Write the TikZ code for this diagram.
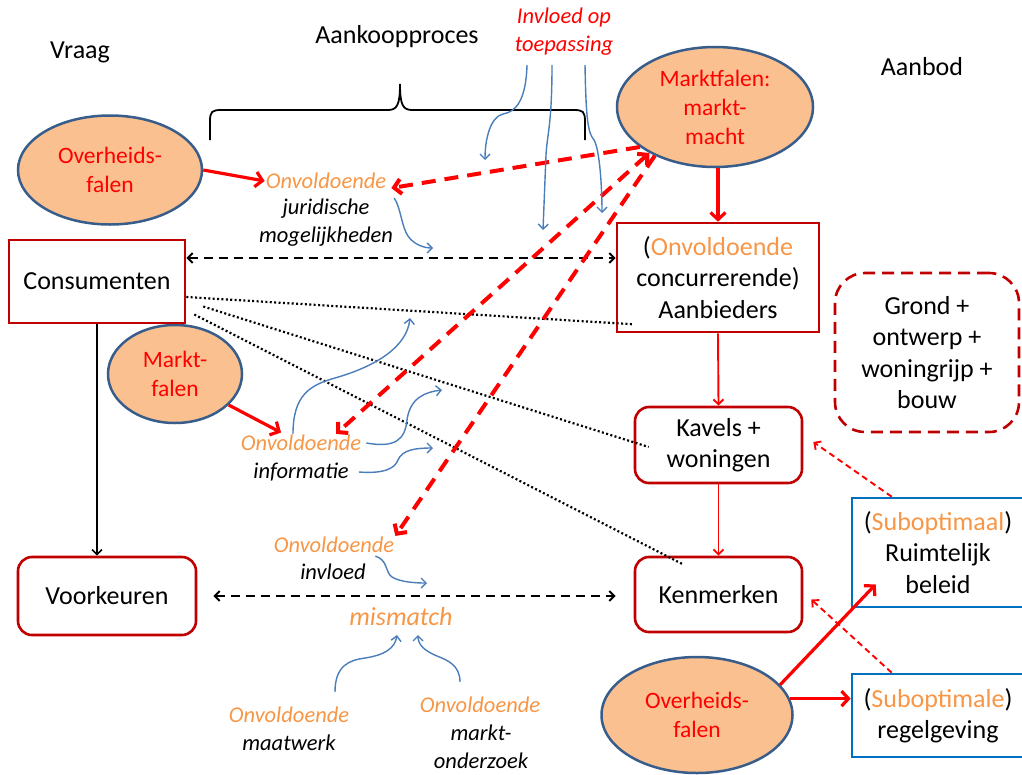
\documentclass[tikz,border=0pt]{standalone}
\usepackage{fontspec}
\setmainfont{Carlito}
\usetikzlibrary{arrows.meta,shapes.geometric,calc}
\definecolor{efill}{HTML}{FAC090}
\definecolor{eline}{HTML}{385D8A}
\definecolor{bred}{HTML}{C00000}
\definecolor{oran}{HTML}{F79646}
\definecolor{bblue}{HTML}{0070C0}
\definecolor{cblue}{HTML}{4A7EBB}
\begin{document}
\begin{tikzpicture}[x=1pt,y=-1pt,
  bigtip/.tip={Straight Barb[length=7pt,width=15pt]},
  smalltip/.tip={Straight Barb[length=5pt,width=10pt]},
  big/.style={font=\fontsize{26}{31.5}\selectfont, inner sep=0pt},
  lab/.style={font=\fontsize{22.5}{28}\selectfont\itshape, inner sep=1pt},
  ell/.style={ellipse, fill=efill, draw=eline, line width=2.5pt, text=red,
    font=\fontsize{23.5}{29}\selectfont, align=center, inner sep=0pt},
  rbox/.style={rectangle, draw=bred, line width=2.6pt, font=\fontsize{26}{31.5}\selectfont, align=center, inner sep=0pt},
  rrbox/.style={rbox, rounded corners=14pt},
  bbox/.style={rectangle, draw=bblue, line width=2.6pt, font=\fontsize{26}{31.5}\selectfont, align=center, inner sep=0pt},
  rarr/.style={draw=red, line width=3.2pt, -bigtip},
  rdash/.style={draw=red, line width=4pt, dash pattern=on 14pt off 9pt},
  thinred/.style={draw=red, line width=1.9pt, -smalltip},
  thinreddash/.style={thinred, dash pattern=on 6pt off 4pt},
  bdash/.style={draw=black, line width=2pt, dash pattern=on 9pt off 6pt, smalltip-smalltip},
  dotline/.style={draw=black, line width=2.2pt, dash pattern=on 2pt off 2.4pt},
  bcurve/.style={draw=cblue, line width=1.4pt, -smalltip}]
\useasboundingbox (0,0) rectangle (1022,774);
\clip (0,0) rectangle (1022,774);

% titles
\node[big] (vraag) at (80,52) {Vraag};
\node[big] (aank) at (397,37) {Aankoopproces};
\node[big] (aanbod) at (922,67) {Aanbod};
\node[lab, text=red, align=center] (inv) at (564,32) {Invloed op\\toepassing};

% brace
\draw[line width=1.8pt] (210,140) -- (210,122) .. controls (210,111) and (212,110) .. (222,110) -- (388,110)
  .. controls (397,110) and (400,105) .. (400,84) .. controls (400,105) and (403,110) .. (412,110) -- (573,110)
  .. controls (583,110) and (585,111) .. (585,122) -- (585,140);

% ellipses
\node[ell, minimum width=184pt, minimum height=109pt] (ofL) at (110,170) {Overheids-\\falen};
\node[ell, minimum width=134pt, minimum height=98pt] (mf) at (175,374) {Markt-\\falen};
\node[ell, minimum width=196pt, minimum height=120pt] (mm) at (715,107) {Marktfalen:\\markt-\\macht};
\node[ell, minimum width=191pt, minimum height=116pt] (ofB) at (697,715) {Overheids-\\falen};

% boxes
\node[rbox, minimum width=176pt, minimum height=83pt] (cons) at (97,281.5) {Consumenten};
\node[rbox, minimum width=202pt, minimum height=109pt] (ab) at (718,277.5) {(\textcolor{oran}{Onvoldoende}\\concurrerende)\\Aanbieders};
\node[rrbox, minimum width=178pt, minimum height=78pt] (vk) at (107,596) {Voorkeuren};
\node[rrbox, minimum width=167pt, minimum height=76pt] (kw) at (718.5,445) {Kavels +\\woningen};
\node[rrbox, minimum width=167pt, minimum height=75pt] (km) at (718.5,594.5) {Kenmerken};
\node[bbox, minimum width=172pt, minimum height=109pt] (rb) at (938,552.5) {(\textcolor{oran}{Suboptimaal})\\Ruimtelijk\\beleid};
\node[bbox, minimum width=172pt, minimum height=83pt] (rg) at (938,715.5) {(\textcolor{oran}{Suboptimale})\\regelgeving};
\node[rrbox, rounded corners=30pt, dash pattern=on 12pt off 7pt, minimum width=184pt, minimum height=159pt] (gr) at (927,352.5) {Grond +\\ontwerp +\\woningrijp +\\bouw};

% italic labels
\node[lab, text=oran] (jurO) at (326,181) {Onvoldoende};
\node[lab, align=center] (jur) at (326,223) {juridische\\mogelijkheden};
\node[lab, text=oran] (infoO) at (301,443) {Onvoldoende};
\node[lab] (info) at (301,472) {informatie};
\node[lab, text=oran] (invO) at (334,545) {Onvoldoende};
\node[lab] (invl) at (333,572) {invloed};
\node[lab, text=oran, font=\fontsize{26}{31}\selectfont\itshape] (mis) at (401,617) {mismatch};
\node[lab, text=oran] (maO) at (289,715) {Onvoldoende};
\node[lab] (ma) at (289,743) {maatwerk};
\node[lab, text=oran] (moO) at (480,705) {Onvoldoende};
\node[lab, align=center] (mo) at (481,747) {markt-\\onderzoek};

% black connectors
\draw[bdash] ([yshift=23.5pt]cons.east) -- ([yshift=23.5pt]cons.east -| ab.west);
\draw[draw=black, line width=1.6pt, -smalltip] (cons.south) -- (cons.south |- vk.north);
\draw[bdash, shorten <=16pt, shorten >=18pt] (vk.east) -- (vk.east -| km.west);
\draw[dotline] ([yshift=-15.5pt]cons.east) -- ([xshift=18pt,yshift=9pt]ab.south west);
\draw[dotline] ([xshift=17pt,yshift=-25pt]cons.east) -- ([xshift=15pt,yshift=-2pt]kw.west);
\draw[dotline] ([xshift=8pt,yshift=-33pt]cons.east) -- ([xshift=50pt,yshift=-9pt]km.north west);

% red solid connectors
\draw[rarr] (ofL.east) -- (jurO.west);
\draw[rarr, shorten >=3pt] (mf.-30) -- (infoO);
\draw[rarr] (ab.north |- mm.south) -- (ab.north);
\draw[rarr] (ofB.20) -- ([xshift=25pt,yshift=24pt]rb.south west);
\draw[rarr] (ofB.10) -- (ofB.10 -| rg.west);
\draw[thinred] (ab.south) -- (kw.north);
\draw[thinred] (kw.south) -- (km.north);
\draw[thinreddash] ([xshift=41pt]rb.north west) -- ([xshift=10pt,yshift=3pt]kw.east);
\draw[thinreddash] ([xshift=41pt]rg.north west) -- ([xshift=8pt,yshift=-5pt]km.east);

% red dashed connectors
\draw[rdash, -bigtip] (mm.208) -- ([xshift=4pt,yshift=2pt]jurO.south east);
\draw[rdash, bigtip-bigtip] (mm.215) -- ([xshift=35pt]infoO.north);
\draw[rdash, -bigtip] (mm.219) -- (invO.north east);

% blue curves
\coordinate (a0) at (527,65); \coordinate (a1) at (485,160);
\coordinate (b0) at (552,65); \coordinate (b1) at (543,230);
\coordinate (c0) at (585,65); \coordinate (c1) at (602,213);
\draw[bcurve] (a0) .. controls (526,100) and (516,112) .. (503,114) .. controls (490,117) and (485,140) .. (a1);
\draw[bcurve] (b0) .. controls (552,125) and (547,135) .. (546,155) -- (b1);
\draw[bcurve] (c0) .. controls (586,120) and (588,133) .. (594,140) .. controls (600,150) and (602,190) .. (c1);
\coordinate (j1) at (433,248);
\draw[bcurve] (jur.north east) .. controls (400,205) and (402,228) .. (408,236) .. controls (414,245) and (425,248) .. (j1);
\coordinate (i1) at (410,318); \coordinate (i2) at (442,390); \coordinate (i3) at (433,448);
\draw[bcurve] ([xshift=-8pt]infoO.north) .. controls (293,395) and (310,385) .. (335,378) .. controls (380,365) and (407,345) .. (i1);
\draw[bcurve] ([xshift=4pt]infoO.east) .. controls (395,448) and (405,440) .. (407,420) .. controls (410,398) and (425,392) .. (i2);
\draw[bcurve] ([xshift=9pt]info.east) .. controls (385,474) and (395,468) .. (398,460) .. controls (402,450) and (415,448) .. (i3);
\coordinate (v1) at (427,583);
\draw[bcurve] ([xshift=-20pt,yshift=-2pt]invO.south east) .. controls (388,560) and (385,572) .. (392,577) .. controls (400,582) and (415,583) .. (v1);
\coordinate (m1) at (397,635); \coordinate (m2) at (418,635);
\draw[bcurve] ([xshift=46pt,yshift=14pt]maO.north) .. controls (335,665) and (350,660) .. (365,658) .. controls (385,655) and (395,648) .. (m1);
\draw[bcurve] ([xshift=-20pt,yshift=14pt]moO.north) .. controls (460,665) and (447,660) .. (437,656) .. controls (425,651) and (418,645) .. (m2);
\end{tikzpicture}
\end{document}
